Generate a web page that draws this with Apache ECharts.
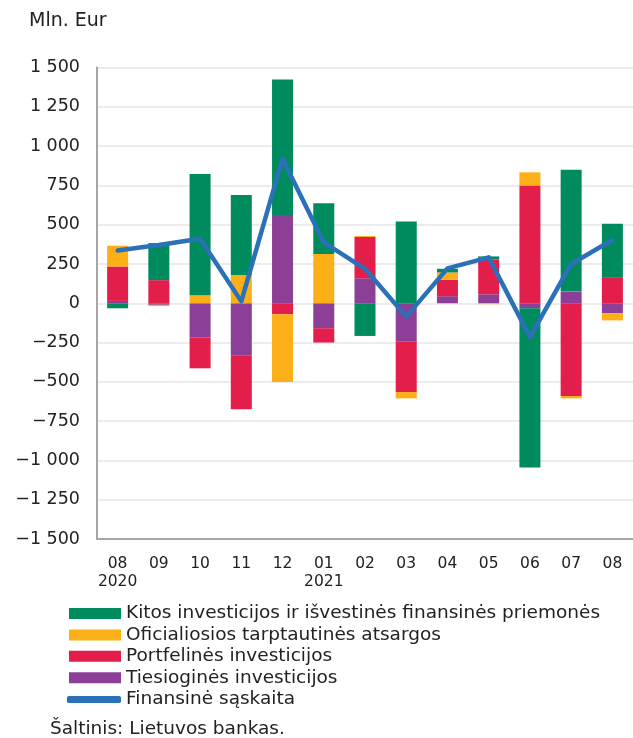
<!DOCTYPE html>
<html>
<head>
<meta charset="utf-8">
<script src="https://cdn.jsdelivr.net/npm/echarts@6/dist/echarts.min.js"></script>
<style>
html,body{margin:0;padding:0;background:#fff;}
#c{width:633px;height:738px;}
</style>
</head>
<body>
<div id="c"></div>
<script>
const categories = ['2020-08','2020-09','2020-10','2020-11','2020-12','2021-01','2021-02','2021-03','2021-04','2021-05','2021-06','2021-07','2021-08'];
const tickLabels = ['08\n2020','09','10','11','12','01\n2021','02','03','04','05','06','07','08'];
const tiesiogines = [15, -10, -219, -331, 561, -159, 159, -244, 45, 57, -32, 74, -64];
const portfelines = [219, 147, -195, -344, -70, -91, 263, -321, 104, 221, 750, -590, 166];
const oficialiosios = [132, -8, 51, 180, -431, 314, 6, -40, 47, -6, 83, -15, -45];
const kitos = [-32, 236, 771, 508, 862, 323, -208, 520, 23, 20, -1013, 775, 340];
const finansine = [336, 370, 410, 12, 920, 387, 219, -85, 222, 292, -215, 250, 402];
const yTicks = {min: -1500, max: 1500, interval: 250};

const names = {
  k: 'Kitos investicijos ir išvestinės finansinės priemonės',
  o: 'Oficialiosios tarptautinės atsargos',
  p: 'Portfelinės investicijos',
  t: 'Tiesioginės investicijos',
  f: 'Finansinė sąskaita'
};
const colors = {k:'#008B5F', o:'#FCAF17', p:'#E31E4A', t:'#8C3F97', f:'#2A71B8'};
const FONT = 'DejaVu Sans';

function fmt(v){
  const s = Math.abs(v).toString().replace(/\B(?=(\d{3})+(?!\d))/g, ' ');
  return (v < 0 ? '\u2212' : '') + s;
}

const chart = echarts.init(document.getElementById('c'), null, {renderer:'canvas'});
const barCommon = {type:'bar', stack:'total', barWidth:21, emphasis:{disabled:true}};
const legendText = {fontFamily:FONT, fontSize:18.5, color:'#222', lineHeight:21};
chart.setOption({
  animation:false,
  textStyle:{fontFamily:FONT},
  grid:{left:97, top:67.5, width:547, height:471.5, containLabel:false},
  graphic:[
    {type:'text', left:29, top:12, style:{text:'Mln. Eur', font:'19px "DejaVu Sans"', fill:'#222'}},
    {type:'text', left:50, top:720, style:{text:'Šaltinis: Lietuvos bankas.', font:'18.5px "DejaVu Sans"', fill:'#222'}}
  ],
  legend:[{
    orient:'vertical', left:69, top:603, padding:0,
    itemWidth:52, itemHeight:11, itemGap:0.4,
    icon:'rect',
    data:[names.k, names.o, names.p, names.t],
    textStyle:legendText,
    selectedMode:false
  },{
    orient:'vertical', left:67, top:689, padding:0,
    itemWidth:54, itemHeight:7,
    icon:'roundRect',
    data:[{name:names.f, itemStyle:{color:colors.f}}],
    textStyle:legendText,
    selectedMode:false
  }],
  xAxis:{
    type:'category', data:categories,
    axisLine:{onZero:false, lineStyle:{color:'#a6a6a6', width:2}},
    axisTick:{show:false},
    axisLabel:{
      formatter:(v, i)=>tickLabels[i], color:'#222', fontFamily:FONT, fontSize:15.5,
      lineHeight:18, margin:16, interval:0
    },
    splitLine:{show:false}
  },
  yAxis:{
    type:'value', min:yTicks.min, max:yTicks.max, interval:yTicks.interval,
    axisLine:{show:true, lineStyle:{color:'#a6a6a6', width:2}},
    axisTick:{show:false},
    axisLabel:{formatter:fmt, color:'#222', fontFamily:FONT, fontSize:17.5, margin:17},
    splitLine:{lineStyle:{color:'#e6e6e6', width:1.5}}
  },
  series:[
    Object.assign({name:names.t, data:tiesiogines, itemStyle:{color:colors.t}}, barCommon),
    Object.assign({name:names.p, data:portfelines, itemStyle:{color:colors.p}}, barCommon),
    Object.assign({name:names.o, data:oficialiosios, itemStyle:{color:colors.o}}, barCommon),
    Object.assign({name:names.k, data:kitos, itemStyle:{color:colors.k}}, barCommon),
    {name:names.f, type:'line', data:finansine, symbol:'none', showSymbol:false, z:10,
     lineStyle:{color:colors.f, width:4.5, join:'round', cap:'round'}, itemStyle:{color:colors.f},
     emphasis:{disabled:true}}
  ]
});
</script>
</body>
</html>
